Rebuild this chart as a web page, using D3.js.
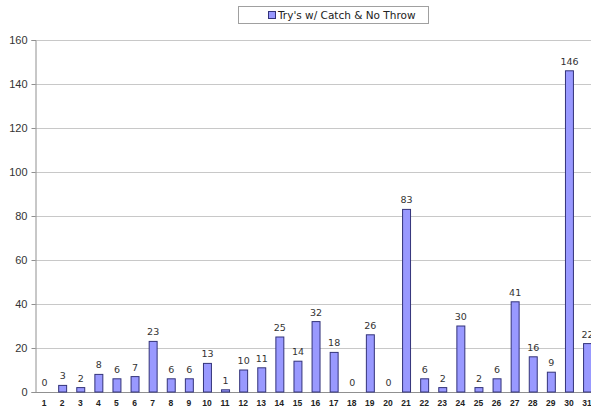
<!DOCTYPE html>
<html>
<head>
<meta charset="utf-8">
<script src="https://cdn.jsdelivr.net/npm/d3@7"></script>
<style>
  body { margin: 0; background: #fff; }
  svg { display: block; font-family: "DejaVu Sans", Verdana, sans-serif; }
</style>
</head>
<body>
<svg id="chart" width="591" height="409"></svg>
<script>
// Attempts per day
const days = ["1","2","3","4","5","6","7","8","9","10","11","12","13","14","15","16","17","18","19","20","21","22","23","24","25","26","27","28","29","30","31"];
const tries = [0,3,2,8,6,7,23,6,6,13,1,10,11,25,14,32,18,0,26,0,83,6,2,30,2,6,41,16,9,146,22];
const yTicks = [0,20,40,60,80,100,120,140,160];
const seriesName = "Try's w/ Catch & No Throw";

const svg = d3.select("#chart");
const plotLeft = 35, plotTop = 40, plotBottom = 392;
const step = 18.1;
const plotRight = plotLeft + step * days.length;

const x = d3.scaleBand().domain(days).range([plotLeft, plotRight]).paddingInner(0.56).paddingOuter(0.28);
const y = d3.scaleLinear().domain([0, 160]).range([plotBottom, plotTop]);

// horizontal grid
svg.append("g").selectAll("line").data(yTicks.filter(d => d > 0)).join("line")
  .attr("x1", plotLeft).attr("x2", 591)
  .attr("y1", d => y(d) + 0.5).attr("y2", d => y(d) + 0.5)
  .attr("stroke", "#c8c8c8").attr("stroke-width", 1);

// y axis
const yAxis = svg.append("g").attr("transform", `translate(${plotLeft + 0.5},0)`)
  .call(d3.axisLeft(y).tickValues(yTicks).tickSize(4).tickPadding(4));
yAxis.select(".domain").attr("stroke", "#909090");
yAxis.selectAll(".tick line").attr("stroke", "#909090");
yAxis.selectAll("text").attr("font-size", 11).attr("fill", "#333");

// x axis
const xAxis = svg.append("g").attr("transform", `translate(0,${plotBottom + 0.5})`)
  .call(d3.axisBottom(x).tickSize(0).tickPadding(7).tickSizeOuter(0));
xAxis.select(".domain").attr("stroke", "#909090").attr("d", `M${plotLeft},0H591`);
xAxis.selectAll("text").attr("font-size", 8.5).attr("font-weight", "bold").attr("fill", "#222");

// bars
svg.append("g").selectAll("rect").data(days).join("rect")
  .attr("x", d => x(d) + 0.5)
  .attr("y", (d, i) => y(tries[i]))
  .attr("width", x.bandwidth())
  .attr("height", (d, i) => plotBottom - y(tries[i]))
  .attr("fill", "#9999ff").attr("stroke", "#33337a").attr("stroke-width", 1)
  .style("display", (d, i) => tries[i] === 0 ? "none" : null);

// value labels
svg.append("g").selectAll("text").data(days).join("text")
  .attr("x", d => x(d) + x.bandwidth() / 2 + 0.5)
  .attr("y", (d, i) => y(tries[i]) - 6)
  .attr("text-anchor", "middle")
  .attr("font-size", 9.5).attr("fill", "#333")
  .text((d, i) => tries[i]);

// legend
const lg = svg.append("g");
lg.append("rect").attr("x", 238.5).attr("y", 6.5).attr("width", 190).attr("height", 17)
  .attr("fill", "#fff").attr("stroke", "#a0a0a0");
lg.append("rect").attr("x", 268.5).attr("y", 11.5).attr("width", 7).attr("height", 7)
  .attr("fill", "#9999ff").attr("stroke", "#33337a");
lg.append("text").attr("x", 278).attr("y", 19).attr("font-size", 10.5).attr("fill", "#222")
  .text(seriesName);
</script>
</body>
</html>
